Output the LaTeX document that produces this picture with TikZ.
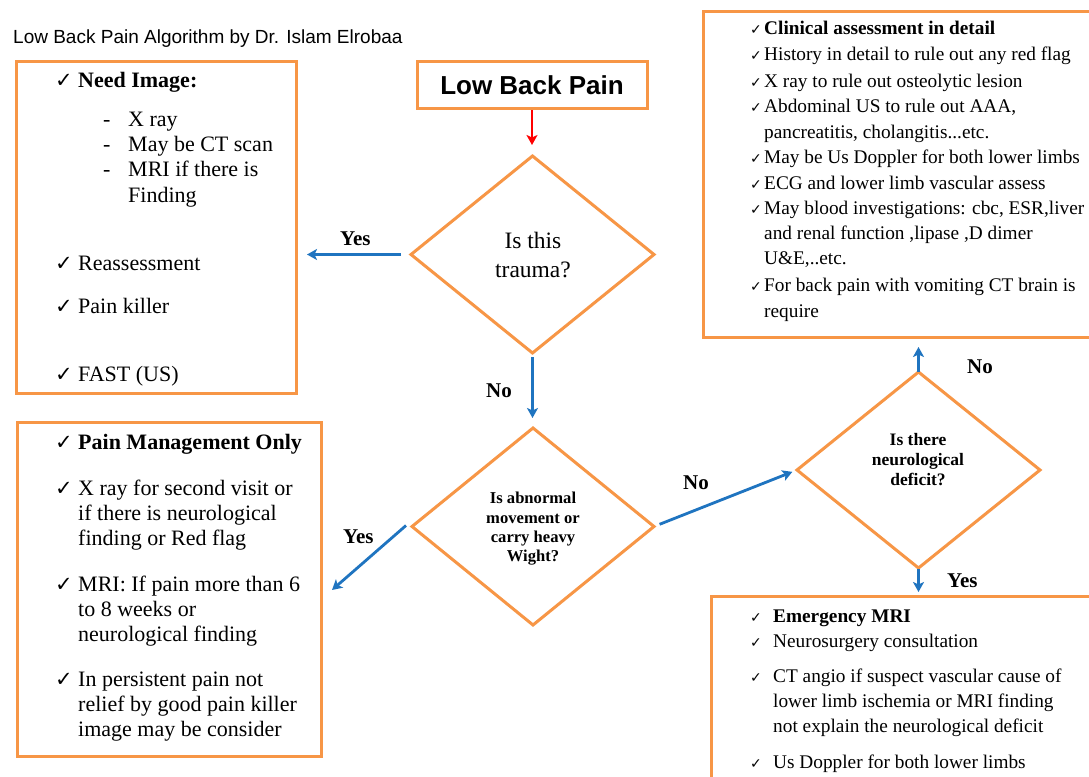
\documentclass[tikz,border=0pt]{standalone}
\usepackage{fontspec}
\setmainfont{Liberation Serif}
\newfontfamily\arialf{Liberation Sans}
\newfontfamily\djv{DejaVu Sans}
\usetikzlibrary{arrows.meta,shapes.geometric}
\definecolor{borange}{HTML}{F79646}
\definecolor{ablue}{HTML}{1F74C0}
\definecolor{ared}{HTML}{FF0000}
\newcommand{\fsz}[2]{\fontsize{#1}{#2}\selectfont}
\begin{document}
\begin{tikzpicture}[x=1pt,y=-1pt,
  box/.style={draw=borange,line width=3pt,rectangle,inner sep=0pt,outer sep=0pt},
  dia/.style={draw=borange,line width=3pt,diamond,inner sep=0pt,outer sep=0pt},
  big/.style={anchor=base west,inner sep=0pt,font=\fsz{22}{25}},
  sml/.style={anchor=base west,inner sep=0pt,font=\fsz{19.3}{22}},
  ckb/.style={anchor=base west,inner sep=0pt,font=\djv\fsz{21}{21}},
  cks/.style={anchor=base west,inner sep=0pt,font=\djv\fsz{14}{14}},
  lab/.style={anchor=base west,inner sep=0pt,font=\bfseries\fsz{21}{21}},
  barr/.style={draw=ablue,line width=2.8pt,-{Stealth[length=10pt,width=11pt,inset=2.5pt]}},
  rarr/.style={draw=ared,line width=2.8pt,-{Stealth[length=10pt,width=11pt,inset=2.5pt]}}]
\useasboundingbox (0,0) rectangle (1089,776);
\fill[white] (0,0) rectangle (1089,776);

% title
\node[anchor=base west,inner sep=0pt,font=\arialf\fsz{19}{19}] (title) at (13,44) {Low Back Pain Algorithm by Dr. Islam Elrobaa};

% boxes
\node[box,minimum width=230,minimum height=46,font=\arialf\bfseries\fsz{26}{26}] (lbp) at (532,85) {Low Back Pain};
\node[box,minimum width=280,minimum height=331] (b1) at (156,227.5) {};
\node[box,minimum width=392,minimum height=325] (b4) at (899,174.5) {};
\node[box,minimum width=304,minimum height=334] (b5) at (169,589) {};
\node[box,minimum width=384,minimum height=194] (b6) at (903,693) {};

% diamonds
\node[dia,minimum width=243,minimum height=197] (d1) at (532.5,254.5) {};
\node[dia,minimum width=242,minimum height=197] (d2) at (533,526.5) {};
\node[dia,minimum width=243,minimum height=196] (d3) at (918.5,470) {};
\node[align=center,inner sep=0pt,font=\fsz{23.5}{29}] (d1t) at (533,255.5) {Is this\\trauma?};
\node[align=center,inner sep=0pt,font=\bfseries\fsz{16.6}{19.3}] (d2t) at (533,529) {Is abnormal\\movement or\\carry heavy\\Wight?};
\node[align=center,inner sep=0pt,font=\bfseries\fsz{17.5}{20}] (d3t) at (918,460) {Is there\\neurological\\deficit?};

% box 1 text
\node[ckb] (c1a) at (55,88) {✓};  \node[big] (t1a) at (78,88) {\textbf{Need Image:}};
\node[big] (h1a) at (103,126) {-}; \node[big] (t1b) at (128,126) {X ray};
\node[big] (h1b) at (103,151) {-}; \node[big] (t1c) at (128,151) {May be CT scan};
\node[big] (h1c) at (103,176) {-}; \node[big] (t1d) at (128,176) {MRI if there is};
\node[big] (t1e) at (128,202) {Finding};
\node[ckb] (c1b) at (55,270) {✓};  \node[big] (t1f) at (78,270) {Reassessment};
\node[ckb] (c1c) at (55,313) {✓};  \node[big] (t1g) at (78,313) {Pain killer};
\node[ckb] (c1d) at (55,381) {✓};  \node[big] (t1h) at (78,381) {FAST (US)};

% box 5 text
\node[ckb] (c5a) at (55,449) {✓}; \node[big] (t5a) at (78,449) {\textbf{Pain Management Only}};
\node[ckb] (c5b) at (55,495) {✓}; \node[big] (t5b) at (78,495) {X ray for second visit or};
\node[big] (t5c) at (78,520) {if there is neurological};
\node[big] (t5d) at (78,545) {finding or Red flag};
\node[ckb] (c5c) at (55,591) {✓}; \node[big] (t5e) at (78,591) {MRI: If pain more than 6};
\node[big] (t5f) at (78,616) {to 8 weeks or};
\node[big] (t5g) at (78,641) {neurological finding};
\node[ckb] (c5d) at (55,686) {✓}; \node[big] (t5h) at (78,686) {In persistent pain not};
\node[big] (t5i) at (78,711) {relief by good pain killer};
\node[big] (t5j) at (78,736) {image may be consider};

% box 4 text
\node[cks] (c4a) at (750,35) {✓}; \node[sml] (t4a) at (764,35) {\textbf{Clinical assessment in detail}};
\node[cks] (c4b) at (750,61) {✓}; \node[sml] (t4b) at (764,61) {History in detail to rule out any red flag};
\node[cks] (c4c) at (750,87) {✓}; \node[sml] (t4c) at (764,87) {X ray to rule out osteolytic lesion};
\node[cks] (c4d) at (750,112) {✓}; \node[sml] (t4d) at (764,112) {Abdominal US to rule out AAA,};
\node[sml] (t4e) at (764,138) {pancreatitis, cholangitis...etc.};
\node[cks] (c4f) at (750,163) {✓}; \node[sml] (t4f) at (764,163) {May be Us Doppler for both lower limbs};
\node[cks] (c4g) at (750,189) {✓}; \node[sml] (t4g) at (764,189) {ECG and lower limb vascular assess};
\node[cks] (c4h) at (750,214) {✓}; \node[sml] (t4h) at (764,214) {May blood investigations: cbc, ESR,liver};
\node[sml] (t4i) at (764,239) {and renal function ,lipase ,D dimer};
\node[sml] (t4j) at (764,264) {U\&E,..etc.};
\node[cks] (c4k) at (750,291) {✓}; \node[sml] (t4k) at (764,291) {For back pain with vomiting CT brain is};
\node[sml] (t4l) at (764,317) {require};

% box 6 text
\node[cks] (c6a) at (750,622) {✓}; \node[sml] (t6a) at (773,622) {\textbf{Emergency MRI}};
\node[cks] (c6b) at (750,647) {✓}; \node[sml] (t6b) at (773,647) {Neurosurgery consultation};
\node[cks] (c6c) at (750,682) {✓}; \node[sml] (t6c) at (773,682) {CT angio if suspect vascular cause of};
\node[sml] (t6d) at (773,707) {lower limb ischemia or MRI finding};
\node[sml] (t6e) at (773,732) {not explain the neurological deficit};
\node[cks] (c6f) at (750,768) {✓}; \node[sml] (t6f) at (773,768) {Us Doppler for both lower limbs};

% connectors
\coordinate (yes2end) at (332,590);
\draw[rarr,shorten <=2pt,shorten >=11pt] (lbp.south) -- (lbp.south |- d1.north);
\draw[barr,shorten <=10pt,shorten >=11pt] (d1.west) -- (d1.west -| b1.east);
\draw[barr,shorten <=4pt,shorten >=10pt] (d1.south) -- (d1.south |- d2.north);
\draw[barr] ([xshift=-6pt,yshift=1pt]d2.west) -- (yes2end);
\draw[barr,shorten <=6pt,shorten >=5pt] (d2.east) -- (d3.west);
\draw[barr,shorten >=10pt] (d3.north) -- (d3.north |- b4.south);
\draw[barr,shorten <=1pt,shorten >=4pt] (d3.south) -- (d3.south |- b6.north);

% labels
\node[lab] (yes1) at (340,245) {Yes};
\node[lab] (no1) at (486,397) {No};
\node[lab] (yes2) at (343,543) {Yes};
\node[lab] (no2) at (683,489) {No};
\node[lab] (no3) at (967,373) {No};
\node[lab] (yes3) at (947,587) {Yes};
\end{tikzpicture}
\end{document}
